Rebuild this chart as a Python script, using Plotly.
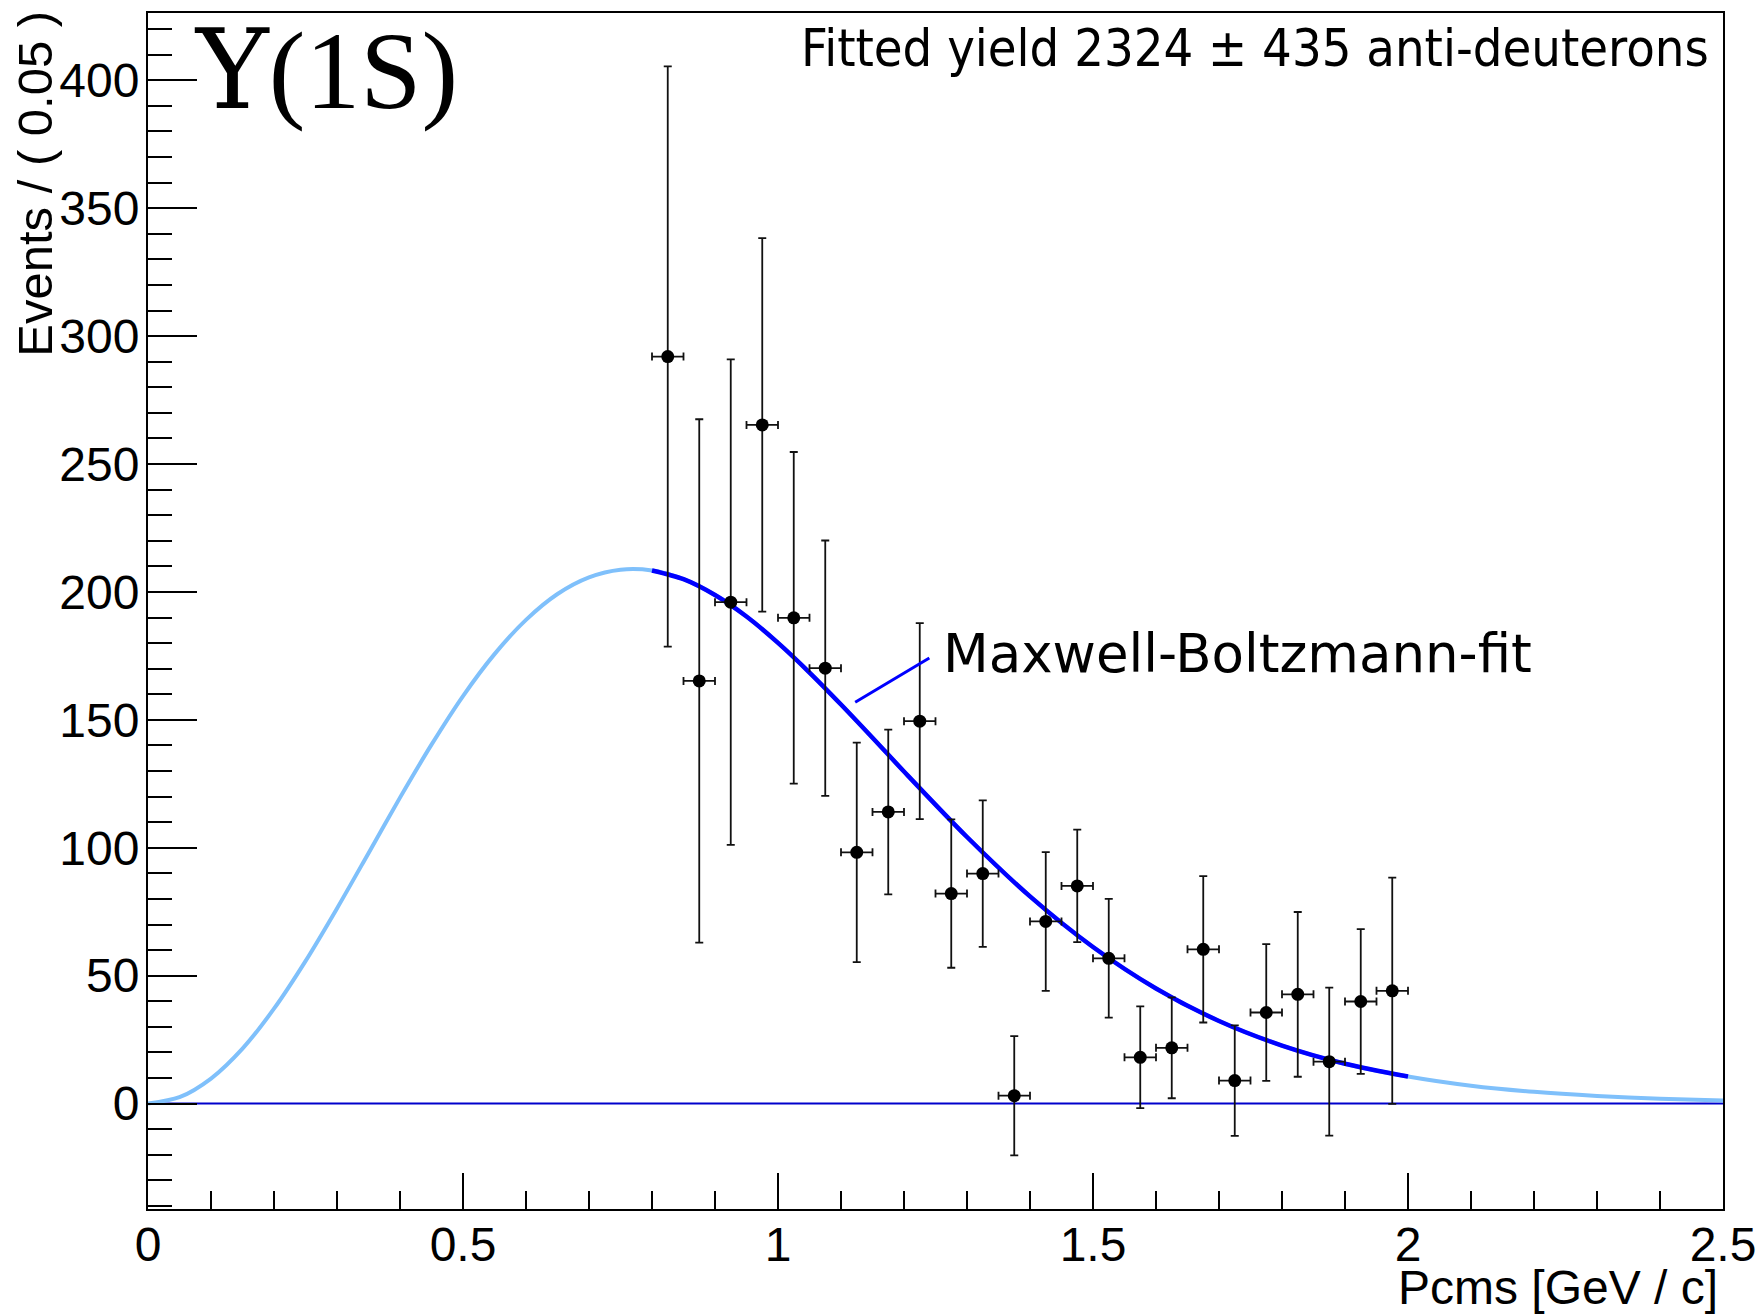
import plotly.graph_objects as go

# ---- data ----
bin_centers = [0.825, 0.875, 0.925, 0.975, 1.025, 1.075, 1.125, 1.175, 1.225, 1.275,
               1.325, 1.375, 1.425, 1.475, 1.525, 1.575, 1.625, 1.675, 1.725, 1.775,
               1.825, 1.875, 1.925, 1.975]
events = [292.0, 165.2, 196.0, 265.3, 189.9, 170.2, 98.2, 114.0, 149.5, 82.1,
          89.9, 3.1, 71.2, 85.1, 56.8, 18.1, 21.8, 60.3, 9.0, 35.6,
          42.7, 16.4, 39.9, 44.1]
events_err = [113.4, 102.3, 94.9, 73.0, 64.8, 49.9, 42.9, 32.2, 38.3, 29.0,
              28.6, 23.3, 27.1, 22.0, 23.2, 19.9, 19.7, 28.6, 21.6, 26.7,
              32.2, 28.9, 28.3, 44.2]
bin_half_width = [0.025] * len(bin_centers)

# Maxwell-Boltzmann fit curve
curve_p = [0.0, 0.05, 0.1, 0.15, 0.2, 0.25, 0.3, 0.35, 0.4, 0.45, 0.5, 0.55, 0.6,
           0.65, 0.7, 0.75, 0.8, 0.85, 0.9, 0.95, 1.0, 1.05, 1.1, 1.15, 1.2, 1.3,
           1.4, 1.5, 1.6, 1.7, 1.8, 1.9, 2.0, 2.1, 2.2, 2.3, 2.4, 2.5]
curve_val = [0.0, 2.5, 9.8, 21.5, 37.1, 55.7, 76.3, 97.9, 119.6, 140.3, 159.3, 175.7,
             189.1, 199.2, 205.7, 208.7, 208.4, 205.0, 198.8, 190.4, 180.1, 168.5,
             156.0, 143.0, 129.8, 104.2, 81.0, 61.2, 45.0, 32.3, 22.7, 15.6, 10.6,
             7.0, 4.6, 3.0, 1.9, 1.2]
fit_lo, fit_hi = 0.8, 2.0
fit_p = [p for p in curve_p if fit_lo - 1e-9 <= p <= fit_hi + 1e-9]
fit_val = [v for p, v in zip(curve_p, curve_val) if fit_lo - 1e-9 <= p <= fit_hi + 1e-9]

baseline_x = [0.0, 2.5]
baseline_y = [0.0, 0.0]

x_range = [0.0, 2.5]
y_range = [-41.2, 426.3]

title_text = ('<span style="font-family:DejaVu Serif">\u03a5</span>'
              '<span style="font-family:Liberation Serif">(1S)</span>')
yield_text = "Fitted yield 2324 \u00b1 435 anti-deuterons"
fit_label = "Maxwell-Boltzmann-fit"
x_title = "Pcms [GeV / c]"
y_title = "Events / ( 0.05 )"

# label anchor positions (data coords)
fit_label_pos = (1.259, 176.0)
fit_pointer_from = (1.2426, 174.5)
fit_pointer_to = (1.1225, 156.9)

SANS = "Liberation Sans, Arial, Helvetica, sans-serif"

fig = go.Figure()

fig.add_trace(go.Scatter(x=baseline_x, y=baseline_y, mode="lines",
                         line=dict(color="#0000cc", width=2), hoverinfo="skip"))
fig.add_trace(go.Scatter(x=curve_p, y=curve_val, mode="lines",
                         line=dict(color="#7fc0fb", width=4, shape="spline", smoothing=0.8),
                         hoverinfo="skip"))
fig.add_trace(go.Scatter(x=fit_p, y=fit_val, mode="lines",
                         line=dict(color="#0000ff", width=4.5, shape="spline", smoothing=0.8),
                         hoverinfo="skip"))
fig.add_trace(go.Scatter(
    x=bin_centers, y=events, mode="markers",
    marker=dict(symbol="circle", size=13, color="black", line=dict(width=0)),
    error_y=dict(type="data", array=events_err, visible=True,
                 color="#111111", thickness=1.8, width=4),
    error_x=dict(type="data", array=bin_half_width, visible=True,
                 color="#111111", thickness=1.8, width=4),
))

axis_common = dict(showgrid=False, zeroline=False, showline=True, linewidth=2,
                   linecolor="black", mirror=True, ticks="inside", tickcolor="black",
                   tickwidth=1.5, tickfont=dict(family=SANS, size=48, color="black"))

fig.update_xaxes(range=x_range, tickmode="linear", tick0=0, dtick=0.5, ticklen=36,
                 minor=dict(dtick=0.1, tick0=0, ticklen=18, ticks="inside",
                            tickcolor="black", tickwidth=1.5, showgrid=False),
                 ticklabelstandoff=-8, **axis_common)
fig.update_yaxes(range=y_range, tickmode="linear", tick0=0, dtick=50, ticklen=49,
                 minor=dict(dtick=10, tick0=0, ticklen=24, ticks="inside",
                            tickcolor="black", tickwidth=1.5, showgrid=False),
                 ticklabelstandoff=-3, **axis_common)

annotations = [
    dict(text=title_text, xref="paper", yref="y", x=0.1133, y=404.2,
         xanchor="center", yanchor="middle", showarrow=False,
         font=dict(family="Liberation Serif, Times New Roman, serif", size=110, color="black")),
    dict(text=yield_text, xref="paper", yref="y", x=0.9924, y=412.5,
         xanchor="right", yanchor="middle", showarrow=False,
         font=dict(family="DejaVu Sans Condensed, DejaVu Sans, sans-serif", size=52, color="black")),
    dict(text=fit_label, xref="x", yref="y", x=fit_label_pos[0], y=fit_label_pos[1],
         xanchor="left", yanchor="middle", showarrow=False,
         font=dict(family="DejaVu Sans, sans-serif", size=53, color="black")),
    dict(text="", xref="x", yref="y", x=fit_pointer_to[0], y=fit_pointer_to[1],
         axref="x", ayref="y", ax=fit_pointer_from[0], ay=fit_pointer_from[1],
         showarrow=True, arrowhead=0, arrowwidth=3, arrowcolor="#0000ff",
         standoff=0, startstandoff=0),
    dict(text=x_title, xref="paper", yref="paper", x=0.998, y=-0.0655,
         xanchor="right", yanchor="middle", showarrow=False,
         font=dict(family=SANS, size=48, color="black")),
    dict(text=y_title, xref="paper", yref="paper", x=-0.0717, y=0.8573,
         xanchor="center", yanchor="middle", showarrow=False, textangle=-90,
         font=dict(family=SANS, size=49, color="black")),
]

fig.update_layout(width=1762, height=1316,
                  margin=dict(l=148, r=39, t=13, b=107, autoexpand=False),
                  paper_bgcolor="white", plot_bgcolor="white", showlegend=False,
                  annotations=annotations)

fig.write_html("out.html")
